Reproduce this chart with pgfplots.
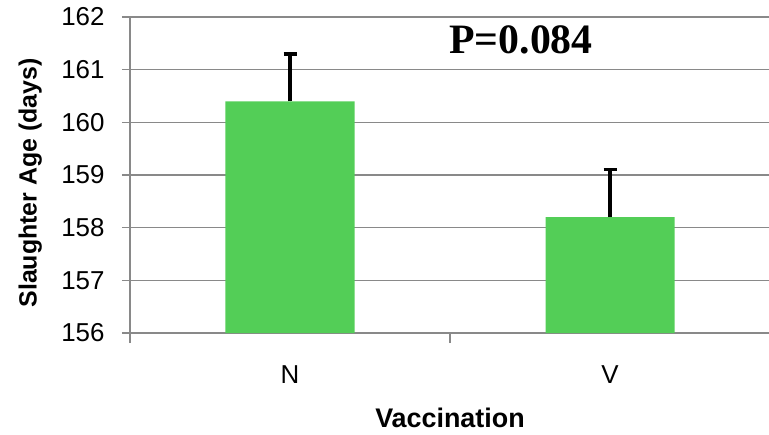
\documentclass[border=0pt]{standalone}
\usepackage{pgfplots}
\pgfplotsset{compat=1.18}
\usepackage{fontspec}
\setmainfont{Liberation Sans}
\newfontfamily\timesfont{Liberation Serif}
\definecolor{bargreen}{RGB}{83,206,87}
\definecolor{gridgray}{RGB}{137,137,137}
\begin{document}
\begin{tikzpicture}
\begin{axis}[
    scale only axis,
    width=640bp, height=316bp,
    xmin=-0.5, xmax=1.5,
    ymin=156, ymax=162,
    ytick={156,157,...,162},
    xtick={0,1},
    xticklabels={N,V},
    minor xtick={-0.5,0.5,1.5},
    axis x line=bottom, axis y line=left,
    axis line style={-, gridgray, line width=1.6bp},
    ymajorgrids,
    major grid style={gridgray, line width=1.6bp},
    tick align=outside,
    major tick length=8bp,
    minor tick length=10bp,
    x tick style={draw=none},
    minor x tick style={draw=gridgray, line width=1.6bp},
    y tick style={gridgray, line width=1.6bp},
    /pgf/number format/assume math mode=true,
    tick label style={font=\fontsize{26}{26}\selectfont, black},
    yticklabel style={xshift=-14bp},
    xticklabel style={yshift=-21bp},
    xlabel={\textbf{Vaccination}},
    ylabel={\textbf{Slaughter Age (days)}},
    xlabel style={font=\fontsize{27}{27}\selectfont, at={(axis description cs:0.5,-0.27)}, anchor=center},
    ylabel style={font=\fontsize{25}{25}\selectfont, at={(axis description cs:-0.156,0.475)}, anchor=center},
]
\addplot[ybar, bar width=129bp, fill=bargreen, draw=none,
    error bars/.cd, y dir=plus, y explicit,
    error bar style={black, line width=3.5bp},
    error mark options={black, rotate=90, line width=3.5bp, mark size=6.5bp}]
    coordinates {(0,160.4) +- (0,0.9) (1,158.2) +- (0,0.9)};
\node[font=\timesfont\bfseries\fontsize{42}{42}\selectfont] at (axis cs:0.722,161.56) {P=0.084};
\end{axis}
\pgfresetboundingbox
\path ([xshift=-130bp,yshift=-102bp]current axis.south west) rectangle ([xshift=-1bp,yshift=17bp]current axis.north east);
\end{tikzpicture}
\end{document}
